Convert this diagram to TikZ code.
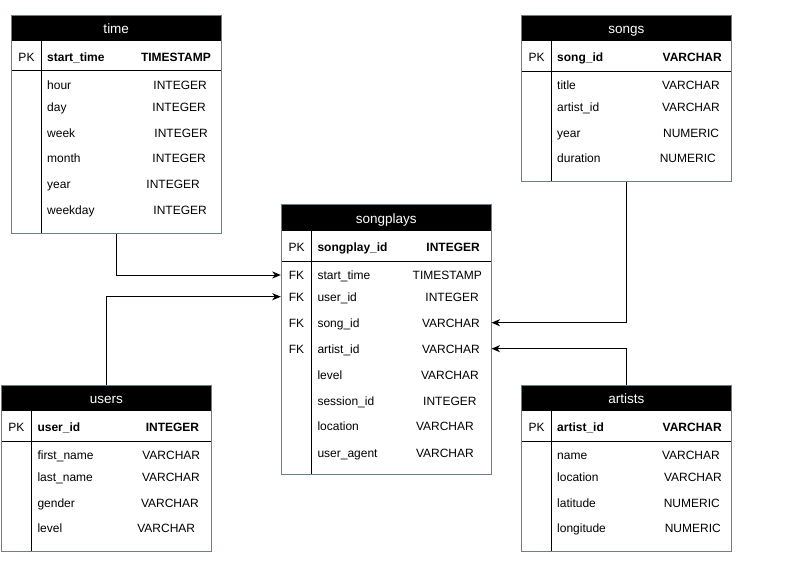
\documentclass[tikz,border=0pt]{standalone}
\usepackage{fontspec}
\setmainfont{Liberation Sans}
\usetikzlibrary{arrows.meta}
\definecolor{bord}{RGB}{108,126,148}
\begin{document}
\begin{tikzpicture}[x=1pt,y=-1pt,
  tframe/.style={draw=bord, line width=1pt, inner sep=0pt, fill=none},
  thead/.style={anchor=base, text=white, inner sep=0pt, font=\fontsize{13.5}{15}\selectfont},
  inline/.style={line width=1pt, black},
  fname/.style={anchor=base west, inner sep=0pt, font=\fontsize{12}{14}\selectfont},
  ftype/.style={anchor=base east, inner sep=0pt, font=\fontsize{12}{14}\selectfont},
  fkey/.style={anchor=base, inner sep=0pt, font=\fontsize{12}{14}\selectfont},
  bname/.style={fname, font=\fontsize{12}{14}\selectfont\bfseries},
  btype/.style={ftype, font=\fontsize{12}{14}\selectfont\bfseries},
  conn/.style={line width=1pt, -{Stealth[length=8.5pt,width=7pt,inset=2.5pt]}}
]
\useasboundingbox (0,0) rectangle (792,580);

% ---------- time ----------
\fill[black] (11.5,15.5) rectangle (221,41.5);
\node[thead] (time-h) at (116.25,33.8) {time};
\draw[inline] (11.5,71) -- (221,71);
\draw[inline] (41.5,41.5) -- (41.5,233);
\node[tframe, minimum width=209.5pt, minimum height=217.5pt] (time) at (116.25,124.25) {};
\node[fkey] (time-pk) at (26.5,61.3) {PK};
\node[bname] (time-k) at (47,61.3) {start\_time};
\node[btype] (time-kt) at (211,61.3) {TIMESTAMP};
\foreach \n/\t/\e/\y [count=\i] in {hour/INTEGER/207/85, day/INTEGER/206/107, week/INTEGER/208/133, month/INTEGER/206/158, year/INTEGER/200/184, weekday/INTEGER/207/210}{
  \node[fname] (time-n\i) at (47,\y+4.3) {\n};
  \node[ftype] (time-t\i) at (\e,\y+4.3) {\t};
}

% ---------- songs ----------
\fill[black] (521.3,15.3) rectangle (731.3,41.3);
\node[thead] (songs-h) at (626.3,33.6) {songs};
\draw[inline] (521.3,71.3) -- (731.3,71.3);
\draw[inline] (551.7,41.3) -- (551.7,181.3);
\node[tframe, minimum width=210pt, minimum height=166pt] (songs) at (626.3,98.3) {};
\node[fkey] (songs-pk) at (536.5,61.3) {PK};
\node[bname] (songs-k) at (557,61.3) {song\_id};
\node[btype] (songs-kt) at (722,61.3) {VARCHAR};
\foreach \n/\t/\e/\y [count=\i] in {title/VARCHAR/720/85, artist\_id/VARCHAR/720/107, year/NUMERIC/719.3/133, duration/NUMERIC/716/158}{
  \node[fname] (songs-n\i) at (557,\y+4.3) {\n};
  \node[ftype] (songs-t\i) at (\e,\y+4.3) {\t};
}

% ---------- songplays ----------
\fill[black] (281.3,205) rectangle (491,231);
\node[thead] (sp-h) at (386.15,223.3) {songplays};
\draw[inline] (281.3,261) -- (491,261);
\draw[inline] (311.7,231) -- (311.7,474);
\node[tframe, minimum width=209.7pt, minimum height=269pt] (songplays) at (386.15,339.5) {};
\node[fkey] (sp-pk) at (296.5,251) {PK};
\node[bname] (sp-k) at (317.3,251) {songplay\_id};
\node[btype] (sp-kt) at (480,251) {INTEGER};
\foreach \n/\t/\e/\y [count=\i] in {start\_time/TIMESTAMP/482/275, user\_id/INTEGER/479/296.7, song\_id/VARCHAR/480/322.7, artist\_id/VARCHAR/480/348.7, level/VARCHAR/479/375, session\_id/INTEGER/476.7/400.7, location/VARCHAR/474/426.3, user\_agent/VARCHAR/474/452.7}{
  \node[fname] (sp-n\i) at (317.3,\y+4.3) {\n};
  \node[ftype] (sp-t\i) at (\e,\y+4.3) {\t};
}
\node[fkey] (sp-fk1) at (296.5,279.3) {FK};
\node[fkey] (sp-fk2) at (296.5,301) {FK};
\node[fkey] (sp-fk3) at (296.5,327) {FK};
\node[fkey] (sp-fk4) at (296.5,353) {FK};

% ---------- users ----------
\fill[black] (1.3,385.3) rectangle (211.3,411.3);
\node[thead] (users-h) at (106.3,403.6) {users};
\draw[inline] (1.3,441.3) -- (211.3,441.3);
\draw[inline] (31.7,411.3) -- (31.7,551.3);
\node[tframe, minimum width=210pt, minimum height=166pt] (users) at (106.3,468.3) {};
\node[fkey] (users-pk) at (16.5,431.3) {PK};
\node[bname] (users-k) at (37.3,431.3) {user\_id};
\node[btype] (users-kt) at (199.3,431.3) {INTEGER};
\foreach \n/\t/\e/\y [count=\i] in {first\_name/VARCHAR/200.3/455, last\_name/VARCHAR/200/477, gender/VARCHAR/199/503, level/VARCHAR/195.3/528}{
  \node[fname] (users-n\i) at (37.3,\y+4.3) {\n};
  \node[ftype] (users-t\i) at (\e,\y+4.3) {\t};
}

% ---------- artists ----------
\fill[black] (521.3,385.3) rectangle (731.3,411.3);
\node[thead] (artists-h) at (626.3,403.6) {artists};
\draw[inline] (521.3,441.3) -- (731.3,441.3);
\draw[inline] (551.7,411.3) -- (551.7,551.3);
\node[tframe, minimum width=210pt, minimum height=166pt] (artists) at (626.3,468.3) {};
\node[fkey] (artists-pk) at (536.5,431.3) {PK};
\node[bname] (artists-k) at (557,431.3) {artist\_id};
\node[btype] (artists-kt) at (722,431.3) {VARCHAR};
\foreach \n/\t/\e/\y [count=\i] in {name/VARCHAR/720/455, location/VARCHAR/722/477, latitude/NUMERIC/720/503, longitude/NUMERIC/721/528}{
  \node[fname] (artists-n\i) at (557,\y+4.3) {\n};
  \node[ftype] (artists-t\i) at (\e,\y+4.3) {\t};
}

% ---------- connectors ----------
\draw[conn] (time.south) |- ([yshift=4.3pt]songplays.west |- sp-fk1.base);
\draw[conn] (users.north) |- ([yshift=4.3pt]songplays.west |- sp-fk2.base);
\draw[conn] (songs.south) |- ([yshift=4.3pt]songplays.east |- sp-fk3.base);
\draw[conn] (artists.north) |- ([yshift=4.3pt]songplays.east |- sp-fk4.base);
\end{tikzpicture}
\end{document}
